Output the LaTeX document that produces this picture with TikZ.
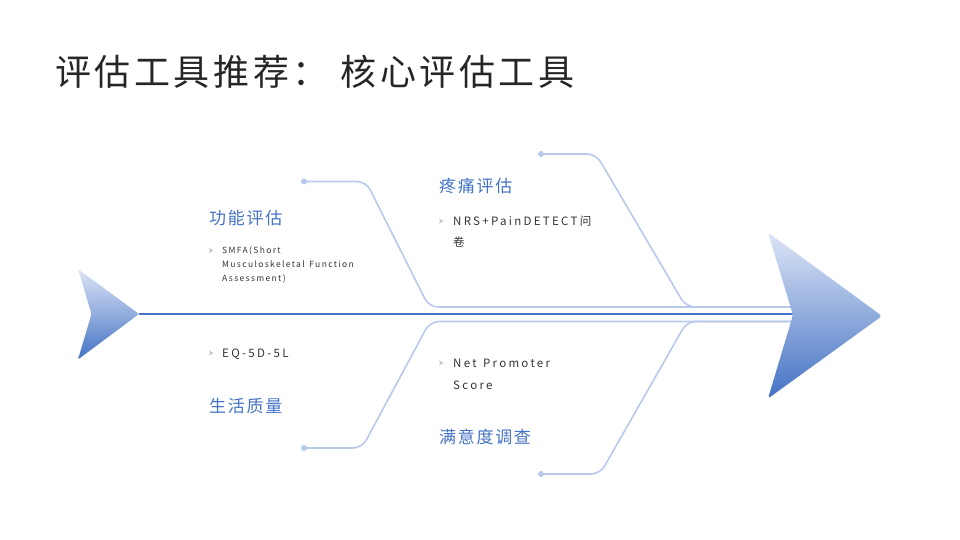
\documentclass[tikz,border=0pt]{standalone}
\usepackage{fontspec}
\setmainfont{Noto Sans CJK SC}
\newfontfamily\titlefont[LetterSpace=10]{Noto Sans CJK SC}
\newfontfamily\headfont[LetterSpace=10]{Noto Sans CJK SC}
\newfontfamily\bodyfont[LetterSpace=20, WordSpace=1.3]{Noto Sans CJK SC}
\newfontfamily\smallfont[LetterSpace=16, WordSpace=1.4]{Noto Sans CJK SC}
\definecolor{mainblue}{HTML}{4472C4}
\definecolor{lineblue}{HTML}{B8C9EA}
\definecolor{paleblue}{HTML}{DDE5F6}
\definecolor{textgray}{HTML}{333333}
\definecolor{titlegray}{HTML}{262626}
\definecolor{bulletgray}{HTML}{C4C4C4}
\tikzset{
    branch/.style={draw=lineblue, line width=1.6pt, rounded corners=9pt},
    headtext/.style={font=\headfont\fontsize{17}{19}\selectfont, text=mainblue, inner sep=0pt, anchor=west},
    bodytext/.style={font=\bodyfont\fontsize{11.5}{14}\selectfont, text=textgray, inner sep=0pt, anchor=base west},
    smalltext/.style={font=\smallfont\fontsize{8.5}{10}\selectfont, text=textgray, inner sep=0pt, anchor=base west},
    bulletmark/.pic={\fill[bulletgray] (-2,-2.6) -- (2.4,0) -- (-2,2.6) -- (-0.9,0) -- cycle;}
}
\begin{document}
\begin{tikzpicture}[x=1pt, y=-1pt]
            \useasboundingbox (0,0) rectangle (960,540);
            \def \yspine    {314}
            \def \yup       {307}
            \def \ydown     {321.5}
            \def \xtail     {139}
            \def \xnotch    {793}
            \def \xl        {222}   % left text
            \def \xr        {453}   % right text
% title
            \node [font=\titlefont\fontsize{36}{40}\selectfont, text=titlegray, inner sep=0pt, anchor=west] (title) at (55,72) {评估工具推荐： 核心评估工具};

% tail and head
            \shade [top color=paleblue, bottom color=mainblue, rounded corners=2pt]
                (78,269) -- (\xtail,\yspine) -- (78,359.5) -- (91.5,\yspine) -- cycle;
            \coordinate (tail) at (\xtail,\yspine);
            \coordinate (head) at (\xnotch,\yspine);
            \coordinate (hup) at (\xnotch,\yup);
            \coordinate (hdown) at (\xnotch,\ydown);

% branches
            \coordinate (b1s) at (304,181.5);
            \coordinate (b1a) at (366,181.5);
            \coordinate (b1b) at (429,\yup);
            \coordinate (b2s) at (541,154);
            \coordinate (b2a) at (596,154);
            \coordinate (b2b) at (686,\yup);
            \coordinate (b3s) at (304,448);
            \coordinate (b3a) at (362,448);
            \coordinate (b3b) at (430,\ydown);
            \coordinate (b4s) at (541,474);
            \coordinate (b4a) at (600,474);
            \coordinate (b4b) at (687,\ydown);

            \draw [branch] (b1s) -- (b1a) -- (b1b) -- (hup);
            \draw [branch] (b2s) -- (b2a) -- (b2b) -- (hup);
            \draw [branch] (b3s) -- (b3a) -- (b3b) -- (hdown);
            \draw [branch] (b4s) -- (b4a) -- (b4b) -- (hdown);
            \foreach \d in {b1s, b2s, b3s, b4s}
                \fill [lineblue] (\d) circle (3pt);

            \draw [mainblue, line width=2.4pt] (tail) -- (head);
            \shade [top color=paleblue, bottom color=mainblue, rounded corners=3pt]
                (768,232.5) -- (882,316) -- (768,398.5) -- (\xnotch,315) -- cycle;

% labels
            \node [headtext] (lfunc) at (209,218) {功能评估};
            \node [headtext] (lpain) at (439,185.5) {疼痛评估};
            \node [headtext] (lqol) at (209,406) {生活质量};
            \node [headtext] (lsat) at (439,437) {满意度调查};

% items
            \pic at (211,250.5) {bulletmark};
            \node [smalltext] (smfa1) at (\xl,253.5) {SMFA(Short};
            \node [smalltext] (smfa2) at (\xl,267.5) {Musculoskeletal Function};
            \node [smalltext] (smfa3) at (\xl,281.5) {Assessment)};

            \pic at (441,221) {bulletmark};
            \node [bodytext] (nrs1) at (\xr,225) {NRS+PainDETECT问};
            \node [bodytext] (nrs2) at (\xr,246) {卷};

            \pic at (211,353) {bulletmark};
            \node [bodytext] (eq) at (\xl,357) {EQ-5D-5L};

            \pic at (441,363) {bulletmark};
            \node [bodytext] (nps1) at (\xr,367.5) {Net Promoter};
            \node [bodytext] (nps2) at (\xr,389) {Score};
\end{tikzpicture}
\end{document}
